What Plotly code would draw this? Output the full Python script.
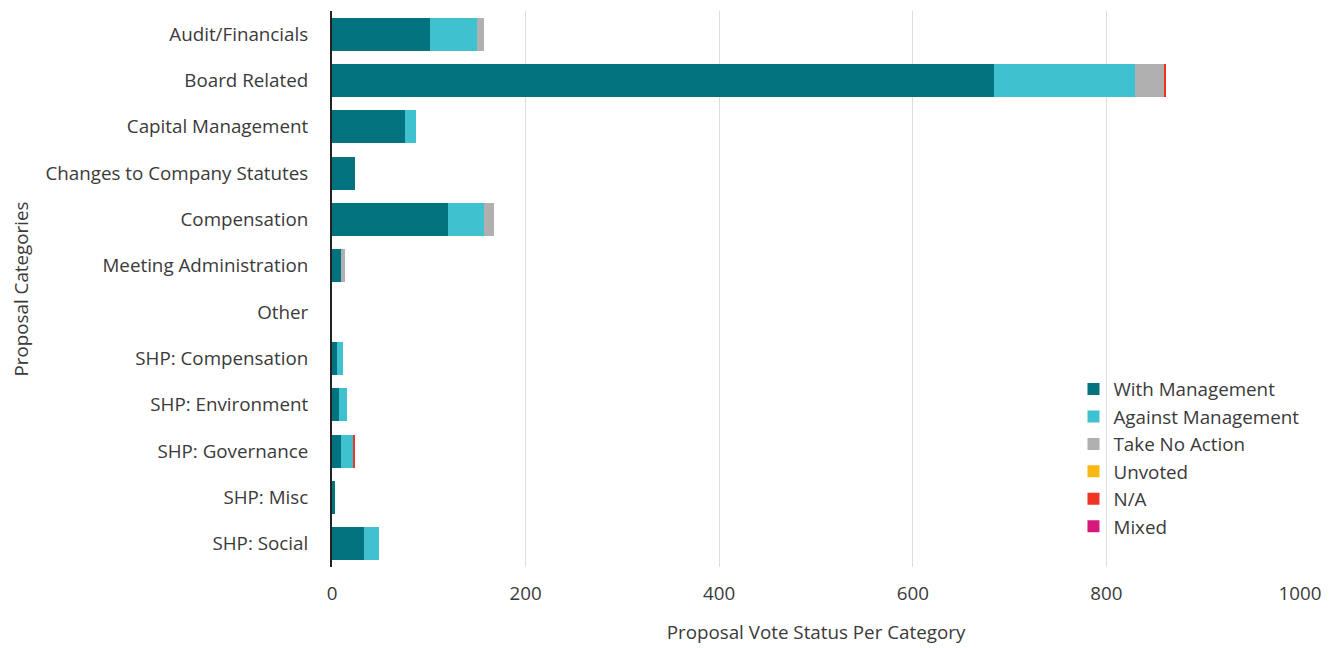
import plotly.graph_objects as go

categories = ["Audit/Financials", "Board Related", "Capital Management", "Changes to Company Statutes",
              "Compensation", "Meeting Administration", "Other", "SHP: Compensation",
              "SHP: Environment", "SHP: Governance", "SHP: Misc", "SHP: Social"]
with_mgmt =    [101, 684, 75, 24, 120, 9, 0, 5, 7, 9, 3, 33]
against_mgmt = [49, 146, 12, 0, 37, 0, 0, 6, 8, 13, 0, 16]
take_no_action = [7, 30, 0, 0, 10, 4, 0, 0, 0, 0, 0, 0]
unvoted =      [0, 0, 0, 0, 0, 0, 0, 0, 0, 0, 0, 0]
n_a =          [0, 2, 0, 0, 0, 0, 0, 0, 0, 2, 0, 0]
mixed =        [0, 0, 0, 0, 0, 0, 0, 0, 0, 0, 0, 0]

series = [
    ("With Management", with_mgmt, "#047380"),
    ("Against Management", against_mgmt, "#3fc1d0"),
    ("Take No Action", take_no_action, "#b0b0b0"),
    ("Unvoted", unvoted, "#f8b914"),
    ("N/A", n_a, "#ee3224"),
    ("Mixed", mixed, "#d6197a"),
]

fig = go.Figure()
for name, vals, color in series:
    fig.add_trace(go.Bar(y=categories, x=vals, name=name, orientation="h",
                         marker=dict(color=color, line=dict(width=0))))

FS = 18.8
fig.update_layout(
    barmode="stack",
    bargap=0.29,
    width=1338, height=648,
    margin=dict(l=324, r=46, t=3, b=89),
    plot_bgcolor="white", paper_bgcolor="white",
    font=dict(family="Open Sans", size=FS, color="#3a3a3a"),
    showlegend=True,
    legend=dict(x=0.766, y=0.039, xanchor="left", yanchor="bottom",
                font=dict(size=FS, color="#3a3a3a"), traceorder="normal",
                bgcolor="rgba(255,255,255,0)", tracegroupgap=0),
    xaxis=dict(range=[0, 1000], dtick=200, showgrid=True, gridcolor="#dddddd", gridwidth=1,
               zeroline=False, showline=False, ticks="", tickfont=dict(size=FS),
               ticklabelstandoff=13, automargin=False,
               title=dict(text="Proposal Vote Status Per Category", font=dict(size=FS), standoff=21)),
    yaxis=dict(autorange="reversed", showline=True, linecolor="#222222", linewidth=2,
               ticks="", tickfont=dict(size=FS), showgrid=False, ticklabelstandoff=18,
               automargin=False,
               title=dict(text="Proposal Categories", font=dict(size=FS), standoff=21)),
)
fig.write_html("out.html")
